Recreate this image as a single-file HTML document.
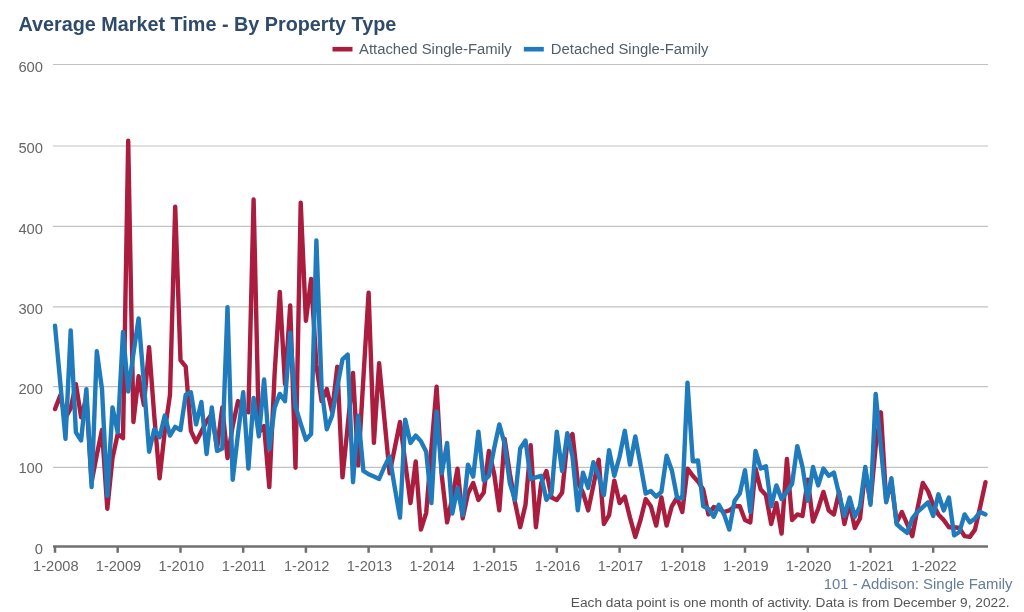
<!DOCTYPE html>
<html><head><meta charset="utf-8"><title>Average Market Time - By Property Type</title>
<style>html,body{margin:0;padding:0;background:#fff;width:1024px;height:612px;overflow:hidden}svg{display:block}</style>
</head><body>
<svg width="1024" height="612" viewBox="0 0 1024 612">
<rect width="1024" height="612" fill="#fff"/>
<text x="18.5" y="31.3" font-family="Liberation Sans, Arial, sans-serif" font-weight="bold" font-size="19.8" fill="#2f4b6b">Average Market Time - By Property Type</text>
<rect x="332.5" y="46.9" width="20" height="4.6" fill="#ab1d3f"/>
<text x="359" y="53.9" font-family="Liberation Sans, Arial, sans-serif" font-size="14.85" fill="#505d6b">Attached Single-Family</text>
<rect x="523.8" y="46.9" width="20" height="4.6" fill="#1f7bbb"/>
<text x="550.8" y="53.9" font-family="Liberation Sans, Arial, sans-serif" font-size="14.85" fill="#505d6b">Detached Single-Family</text>
<line x1="53" y1="64.5" x2="988" y2="64.5" stroke="#c2c2c2" stroke-width="1.2"/>
<text x="43" y="71.7" text-anchor="end" font-family="Liberation Sans, Arial, sans-serif" font-size="14.75" fill="#666">600</text>
<line x1="53" y1="146.0" x2="988" y2="146.0" stroke="#c2c2c2" stroke-width="1.2"/>
<text x="43" y="153.2" text-anchor="end" font-family="Liberation Sans, Arial, sans-serif" font-size="14.75" fill="#666">500</text>
<line x1="53" y1="226.3" x2="988" y2="226.3" stroke="#c2c2c2" stroke-width="1.2"/>
<text x="43" y="233.5" text-anchor="end" font-family="Liberation Sans, Arial, sans-serif" font-size="14.75" fill="#666">400</text>
<line x1="53" y1="306.8" x2="988" y2="306.8" stroke="#c2c2c2" stroke-width="1.2"/>
<text x="43" y="314.0" text-anchor="end" font-family="Liberation Sans, Arial, sans-serif" font-size="14.75" fill="#666">300</text>
<line x1="53" y1="386.6" x2="988" y2="386.6" stroke="#c2c2c2" stroke-width="1.2"/>
<text x="43" y="393.8" text-anchor="end" font-family="Liberation Sans, Arial, sans-serif" font-size="14.75" fill="#666">200</text>
<line x1="53" y1="467.3" x2="988" y2="467.3" stroke="#c2c2c2" stroke-width="1.2"/>
<text x="43" y="473.4" text-anchor="end" font-family="Liberation Sans, Arial, sans-serif" font-size="14.75" fill="#666">100</text>
<text x="43" y="553.7" text-anchor="end" font-family="Liberation Sans, Arial, sans-serif" font-size="14.75" fill="#666">0</text>
<polyline fill="none" stroke="#ab1d3f" stroke-width="4.4" stroke-linejoin="round" stroke-linecap="round" points="55.0,409.1 60.2,395.5 65.5,418.0 70.7,408.3 75.9,384.2 81.1,417.2 86.4,397.9 91.6,482.2 96.8,454.9 102.0,430.0 107.3,508.7 112.5,458.1 117.7,434.0 123.0,438.1 128.2,140.8 133.4,422.0 138.6,376.2 143.9,405.1 149.1,347.3 154.3,416.4 159.6,478.2 164.8,430.8 170.0,394.7 175.2,206.7 180.5,360.1 185.7,366.6 190.9,430.8 196.1,442.1 201.4,431.6 206.6,421.2 211.8,414.0 217.1,448.5 222.3,407.5 227.5,458.1 232.7,426.0 238.0,401.1 243.2,409.9 248.4,412.3 253.6,199.5 258.9,432.4 264.1,426.0 269.3,487.1 274.6,373.8 279.8,291.9 285.0,384.2 290.2,305.5 295.5,467.8 300.7,202.7 305.9,320.8 311.1,279.0 316.4,365.0 321.6,401.1 326.8,389.1 332.1,411.5 337.3,366.6 342.5,477.4 347.7,426.0 353.0,373.0 358.2,465.4 363.4,377.8 368.6,292.7 373.9,442.9 379.1,363.3 384.3,418.0 389.6,473.4 394.8,447.7 400.0,422.0 405.2,462.2 410.5,503.1 415.7,461.4 420.9,529.6 426.2,512.8 431.4,448.5 436.6,386.6 441.8,475.8 447.1,522.4 452.3,497.5 457.5,468.6 462.7,518.4 468.0,493.5 473.2,483.0 478.4,499.9 483.7,492.7 488.9,450.9 494.1,473.4 499.3,510.4 504.6,438.9 509.8,473.4 515.0,502.3 520.2,527.2 525.5,504.7 530.7,445.3 535.9,527.2 541.2,483.0 546.4,471.0 551.6,497.5 556.8,499.9 562.1,492.7 567.3,442.1 572.5,434.0 577.8,482.2 583.0,492.7 588.2,510.4 593.4,485.4 598.7,459.7 603.9,524.0 609.1,515.2 614.3,480.6 619.6,503.1 624.8,496.7 630.0,517.6 635.3,536.9 640.5,520.0 645.7,499.1 650.9,506.3 656.2,525.6 661.4,497.5 666.6,525.6 671.8,506.3 677.1,497.5 682.3,512.0 687.5,468.6 692.8,475.8 698.0,481.4 703.2,489.5 708.4,514.4 713.7,507.1 718.9,508.7 724.1,512.0 729.3,510.4 734.6,506.3 739.8,506.3 745.0,520.0 750.3,522.4 755.5,468.6 760.7,489.5 765.9,495.1 771.2,524.0 776.4,503.1 781.6,533.6 786.9,458.9 792.1,520.0 797.3,514.4 802.5,516.0 807.8,479.8 813.0,521.6 818.2,508.7 823.4,491.9 828.7,510.4 833.9,514.4 839.1,491.9 844.4,524.0 849.6,503.1 854.8,528.0 860.0,518.4 865.3,470.2 870.5,502.3 875.7,446.1 880.9,412.3 886.2,500.7 891.4,482.2 896.6,522.4 901.9,512.0 907.1,524.0 912.3,536.1 917.5,508.7 922.8,483.0 928.0,491.1 933.2,504.7 938.4,514.4 943.7,520.0 948.9,527.2 954.1,527.2 959.4,528.0 964.6,536.1 969.8,536.9 975.0,529.6 980.3,506.3 985.5,482.2"/>
<polyline fill="none" stroke="#1f7bbb" stroke-width="4.4" stroke-linejoin="round" stroke-linecap="round" points="55.0,325.6 60.2,381.8 65.5,438.9 70.7,330.4 75.9,432.4 81.1,440.5 86.4,389.1 91.6,487.1 96.8,351.3 102.0,389.1 107.3,495.9 112.5,407.5 117.7,432.4 123.0,332.0 128.2,391.5 133.4,353.7 138.6,318.4 143.9,383.4 149.1,451.7 154.3,429.2 159.6,437.3 164.8,415.6 170.0,435.6 175.2,426.8 180.5,430.0 185.7,394.7 190.9,392.3 196.1,424.4 201.4,401.9 206.6,454.1 211.8,407.5 217.1,450.9 222.3,448.5 227.5,307.1 232.7,479.8 238.0,434.0 243.2,392.3 248.4,468.6 253.6,397.9 258.9,436.4 264.1,379.4 269.3,449.3 274.6,407.5 279.8,393.9 285.0,401.1 290.2,332.8 295.5,406.7 300.7,423.6 305.9,439.7 311.1,434.0 316.4,240.4 321.6,389.1 326.8,429.2 332.1,415.6 337.3,386.6 342.5,359.3 347.7,354.5 353.0,482.2 358.2,415.6 363.4,471.0 368.6,474.2 373.9,476.6 379.1,479.0 384.3,467.0 389.6,456.5 394.8,487.9 400.0,517.6 405.2,419.6 410.5,442.9 415.7,435.6 420.9,441.3 426.2,451.7 431.4,503.1 436.6,411.5 441.8,473.4 447.1,442.9 452.3,513.6 457.5,487.9 462.7,515.2 468.0,464.6 473.2,476.6 478.4,431.6 483.7,480.6 488.9,475.8 494.1,448.5 499.3,424.4 504.6,443.7 509.8,483.0 515.0,499.9 520.2,448.5 525.5,440.5 530.7,479.0 535.9,477.4 541.2,475.8 546.4,499.9 551.6,492.7 556.8,431.6 562.1,471.0 567.3,433.2 572.5,456.5 577.8,510.4 583.0,472.6 588.2,487.9 593.4,462.2 598.7,475.8 603.9,495.1 609.1,450.1 614.3,475.8 619.6,456.5 624.8,430.8 630.0,464.6 635.3,436.4 640.5,464.6 645.7,493.5 650.9,491.1 656.2,496.7 661.4,491.9 666.6,455.7 671.8,470.2 677.1,497.5 682.3,498.3 687.5,382.6 692.8,461.4 698.0,460.5 703.2,506.3 708.4,508.7 713.7,516.8 718.9,504.7 724.1,514.4 729.3,529.6 734.6,500.7 739.8,493.5 745.0,470.2 750.3,512.0 755.5,450.9 760.7,468.6 765.9,466.2 771.2,506.3 776.4,485.4 781.6,499.1 786.9,491.9 792.1,483.8 797.3,446.1 802.5,467.0 807.8,500.7 813.0,467.0 818.2,485.4 823.4,468.6 828.7,475.8 833.9,472.6 839.1,494.3 844.4,516.0 849.6,497.5 854.8,516.8 860.0,506.3 865.3,467.0 870.5,504.7 875.7,393.9 880.9,447.7 886.2,502.3 891.4,478.2 896.6,524.0 901.9,528.8 907.1,532.8 912.3,518.4 917.5,512.0 922.8,507.1 928.0,502.3 933.2,516.0 938.4,494.3 943.7,510.4 948.9,497.5 954.1,535.3 959.4,532.0 964.6,514.4 969.8,522.4 975.0,518.4 980.3,512.0 985.5,514.4"/>
<line x1="53" y1="546.5" x2="988" y2="546.5" stroke="#707070" stroke-width="2.5"/>
<line x1="55.0" y1="546" x2="55.0" y2="552.8" stroke="#707070" stroke-width="2.5"/>
<text x="55.8" y="571" text-anchor="middle" font-family="Liberation Sans, Arial, sans-serif" font-size="14.6" fill="#666">1-2008</text>
<line x1="117.7" y1="546" x2="117.7" y2="552.8" stroke="#707070" stroke-width="2.5"/>
<text x="118.5" y="571" text-anchor="middle" font-family="Liberation Sans, Arial, sans-serif" font-size="14.6" fill="#666">1-2009</text>
<line x1="180.5" y1="546" x2="180.5" y2="552.8" stroke="#707070" stroke-width="2.5"/>
<text x="181.3" y="571" text-anchor="middle" font-family="Liberation Sans, Arial, sans-serif" font-size="14.6" fill="#666">1-2010</text>
<line x1="243.2" y1="546" x2="243.2" y2="552.8" stroke="#707070" stroke-width="2.5"/>
<text x="244.0" y="571" text-anchor="middle" font-family="Liberation Sans, Arial, sans-serif" font-size="14.6" fill="#666">1-2011</text>
<line x1="305.9" y1="546" x2="305.9" y2="552.8" stroke="#707070" stroke-width="2.5"/>
<text x="306.7" y="571" text-anchor="middle" font-family="Liberation Sans, Arial, sans-serif" font-size="14.6" fill="#666">1-2012</text>
<line x1="368.6" y1="546" x2="368.6" y2="552.8" stroke="#707070" stroke-width="2.5"/>
<text x="369.4" y="571" text-anchor="middle" font-family="Liberation Sans, Arial, sans-serif" font-size="14.6" fill="#666">1-2013</text>
<line x1="431.4" y1="546" x2="431.4" y2="552.8" stroke="#707070" stroke-width="2.5"/>
<text x="432.2" y="571" text-anchor="middle" font-family="Liberation Sans, Arial, sans-serif" font-size="14.6" fill="#666">1-2014</text>
<line x1="494.1" y1="546" x2="494.1" y2="552.8" stroke="#707070" stroke-width="2.5"/>
<text x="494.9" y="571" text-anchor="middle" font-family="Liberation Sans, Arial, sans-serif" font-size="14.6" fill="#666">1-2015</text>
<line x1="556.8" y1="546" x2="556.8" y2="552.8" stroke="#707070" stroke-width="2.5"/>
<text x="557.6" y="571" text-anchor="middle" font-family="Liberation Sans, Arial, sans-serif" font-size="14.6" fill="#666">1-2016</text>
<line x1="619.6" y1="546" x2="619.6" y2="552.8" stroke="#707070" stroke-width="2.5"/>
<text x="620.4" y="571" text-anchor="middle" font-family="Liberation Sans, Arial, sans-serif" font-size="14.6" fill="#666">1-2017</text>
<line x1="682.3" y1="546" x2="682.3" y2="552.8" stroke="#707070" stroke-width="2.5"/>
<text x="683.1" y="571" text-anchor="middle" font-family="Liberation Sans, Arial, sans-serif" font-size="14.6" fill="#666">1-2018</text>
<line x1="745.0" y1="546" x2="745.0" y2="552.8" stroke="#707070" stroke-width="2.5"/>
<text x="745.8" y="571" text-anchor="middle" font-family="Liberation Sans, Arial, sans-serif" font-size="14.6" fill="#666">1-2019</text>
<line x1="807.8" y1="546" x2="807.8" y2="552.8" stroke="#707070" stroke-width="2.5"/>
<text x="808.6" y="571" text-anchor="middle" font-family="Liberation Sans, Arial, sans-serif" font-size="14.6" fill="#666">1-2020</text>
<line x1="870.5" y1="546" x2="870.5" y2="552.8" stroke="#707070" stroke-width="2.5"/>
<text x="871.3" y="571" text-anchor="middle" font-family="Liberation Sans, Arial, sans-serif" font-size="14.6" fill="#666">1-2021</text>
<line x1="933.2" y1="546" x2="933.2" y2="552.8" stroke="#707070" stroke-width="2.5"/>
<text x="934.0" y="571" text-anchor="middle" font-family="Liberation Sans, Arial, sans-serif" font-size="14.6" fill="#666">1-2022</text>
<text x="1012.5" y="588.6" text-anchor="end" font-family="Liberation Sans, Arial, sans-serif" font-size="14.9" fill="#647d98">101 - Addison: Single Family</text>
<text x="1009.6" y="606.8" text-anchor="end" font-family="Liberation Sans, Arial, sans-serif" font-size="13.7" fill="#555">Each data point is one month of activity. Data is from December 9, 2022.</text>
</svg>
</body></html>
